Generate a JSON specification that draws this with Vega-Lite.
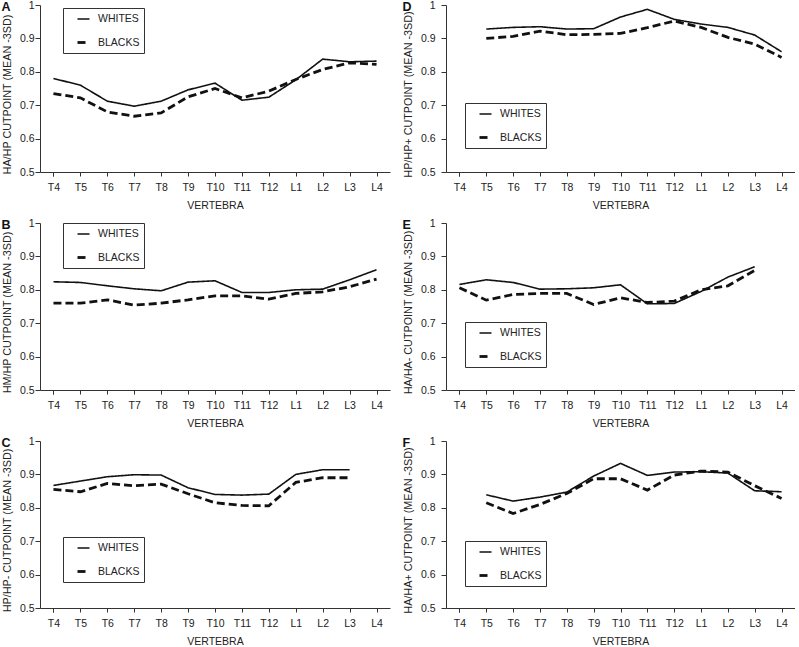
{
  "$schema": "https://vega.github.io/schema/vega-lite/v6.json",
  "padding": {"left": 1, "top": 0, "right": 0, "bottom": 0},
  "background": "white",
  "datasets": {
    "cut": [
      {"panel":"A","vertebra":"T4","group":"WHITES","value":0.780},
      {"panel":"A","vertebra":"T5","group":"WHITES","value":0.760},
      {"panel":"A","vertebra":"T6","group":"WHITES","value":0.712},
      {"panel":"A","vertebra":"T7","group":"WHITES","value":0.697},
      {"panel":"A","vertebra":"T8","group":"WHITES","value":0.712},
      {"panel":"A","vertebra":"T9","group":"WHITES","value":0.746},
      {"panel":"A","vertebra":"T10","group":"WHITES","value":0.766},
      {"panel":"A","vertebra":"T11","group":"WHITES","value":0.715},
      {"panel":"A","vertebra":"T12","group":"WHITES","value":0.724},
      {"panel":"A","vertebra":"L1","group":"WHITES","value":0.776},
      {"panel":"A","vertebra":"L2","group":"WHITES","value":0.838},
      {"panel":"A","vertebra":"L3","group":"WHITES","value":0.830},
      {"panel":"A","vertebra":"L4","group":"WHITES","value":0.832},
      {"panel":"A","vertebra":"T4","group":"BLACKS","value":0.735},
      {"panel":"A","vertebra":"T5","group":"BLACKS","value":0.722},
      {"panel":"A","vertebra":"T6","group":"BLACKS","value":0.680},
      {"panel":"A","vertebra":"T7","group":"BLACKS","value":0.667},
      {"panel":"A","vertebra":"T8","group":"BLACKS","value":0.677},
      {"panel":"A","vertebra":"T9","group":"BLACKS","value":0.725},
      {"panel":"A","vertebra":"T10","group":"BLACKS","value":0.750},
      {"panel":"A","vertebra":"T11","group":"BLACKS","value":0.722},
      {"panel":"A","vertebra":"T12","group":"BLACKS","value":0.742},
      {"panel":"A","vertebra":"L1","group":"BLACKS","value":0.777},
      {"panel":"A","vertebra":"L2","group":"BLACKS","value":0.807},
      {"panel":"A","vertebra":"L3","group":"BLACKS","value":0.827},
      {"panel":"A","vertebra":"L4","group":"BLACKS","value":0.822},

      {"panel":"B","vertebra":"T4","group":"WHITES","value":0.824},
      {"panel":"B","vertebra":"T5","group":"WHITES","value":0.822},
      {"panel":"B","vertebra":"T6","group":"WHITES","value":0.812},
      {"panel":"B","vertebra":"T7","group":"WHITES","value":0.803},
      {"panel":"B","vertebra":"T8","group":"WHITES","value":0.797},
      {"panel":"B","vertebra":"T9","group":"WHITES","value":0.823},
      {"panel":"B","vertebra":"T10","group":"WHITES","value":0.827},
      {"panel":"B","vertebra":"T11","group":"WHITES","value":0.792},
      {"panel":"B","vertebra":"T12","group":"WHITES","value":0.792},
      {"panel":"B","vertebra":"L1","group":"WHITES","value":0.800},
      {"panel":"B","vertebra":"L2","group":"WHITES","value":0.802},
      {"panel":"B","vertebra":"L3","group":"WHITES","value":0.830},
      {"panel":"B","vertebra":"L4","group":"WHITES","value":0.860},
      {"panel":"B","vertebra":"T4","group":"BLACKS","value":0.760},
      {"panel":"B","vertebra":"T5","group":"BLACKS","value":0.760},
      {"panel":"B","vertebra":"T6","group":"BLACKS","value":0.770},
      {"panel":"B","vertebra":"T7","group":"BLACKS","value":0.754},
      {"panel":"B","vertebra":"T8","group":"BLACKS","value":0.760},
      {"panel":"B","vertebra":"T9","group":"BLACKS","value":0.770},
      {"panel":"B","vertebra":"T10","group":"BLACKS","value":0.782},
      {"panel":"B","vertebra":"T11","group":"BLACKS","value":0.782},
      {"panel":"B","vertebra":"T12","group":"BLACKS","value":0.772},
      {"panel":"B","vertebra":"L1","group":"BLACKS","value":0.789},
      {"panel":"B","vertebra":"L2","group":"BLACKS","value":0.794},
      {"panel":"B","vertebra":"L3","group":"BLACKS","value":0.809},
      {"panel":"B","vertebra":"L4","group":"BLACKS","value":0.832},

      {"panel":"C","vertebra":"T4","group":"WHITES","value":0.867},
      {"panel":"C","vertebra":"T5","group":"WHITES","value":0.880},
      {"panel":"C","vertebra":"T6","group":"WHITES","value":0.893},
      {"panel":"C","vertebra":"T7","group":"WHITES","value":0.899},
      {"panel":"C","vertebra":"T8","group":"WHITES","value":0.898},
      {"panel":"C","vertebra":"T9","group":"WHITES","value":0.860},
      {"panel":"C","vertebra":"T10","group":"WHITES","value":0.840},
      {"panel":"C","vertebra":"T11","group":"WHITES","value":0.838},
      {"panel":"C","vertebra":"T12","group":"WHITES","value":0.841},
      {"panel":"C","vertebra":"L1","group":"WHITES","value":0.900},
      {"panel":"C","vertebra":"L2","group":"WHITES","value":0.914},
      {"panel":"C","vertebra":"L3","group":"WHITES","value":0.914},
      {"panel":"C","vertebra":"T4","group":"BLACKS","value":0.855},
      {"panel":"C","vertebra":"T5","group":"BLACKS","value":0.848},
      {"panel":"C","vertebra":"T6","group":"BLACKS","value":0.873},
      {"panel":"C","vertebra":"T7","group":"BLACKS","value":0.866},
      {"panel":"C","vertebra":"T8","group":"BLACKS","value":0.871},
      {"panel":"C","vertebra":"T9","group":"BLACKS","value":0.842},
      {"panel":"C","vertebra":"T10","group":"BLACKS","value":0.815},
      {"panel":"C","vertebra":"T11","group":"BLACKS","value":0.807},
      {"panel":"C","vertebra":"T12","group":"BLACKS","value":0.806},
      {"panel":"C","vertebra":"L1","group":"BLACKS","value":0.876},
      {"panel":"C","vertebra":"L2","group":"BLACKS","value":0.890},
      {"panel":"C","vertebra":"L3","group":"BLACKS","value":0.890},

      {"panel":"D","vertebra":"T5","group":"WHITES","value":0.928},
      {"panel":"D","vertebra":"T6","group":"WHITES","value":0.933},
      {"panel":"D","vertebra":"T7","group":"WHITES","value":0.935},
      {"panel":"D","vertebra":"T8","group":"WHITES","value":0.928},
      {"panel":"D","vertebra":"T9","group":"WHITES","value":0.929},
      {"panel":"D","vertebra":"T10","group":"WHITES","value":0.964},
      {"panel":"D","vertebra":"T11","group":"WHITES","value":0.987},
      {"panel":"D","vertebra":"T12","group":"WHITES","value":0.957},
      {"panel":"D","vertebra":"L1","group":"WHITES","value":0.943},
      {"panel":"D","vertebra":"L2","group":"WHITES","value":0.933},
      {"panel":"D","vertebra":"L3","group":"WHITES","value":0.910},
      {"panel":"D","vertebra":"L4","group":"WHITES","value":0.860},
      {"panel":"D","vertebra":"T5","group":"BLACKS","value":0.900},
      {"panel":"D","vertebra":"T6","group":"BLACKS","value":0.906},
      {"panel":"D","vertebra":"T7","group":"BLACKS","value":0.922},
      {"panel":"D","vertebra":"T8","group":"BLACKS","value":0.911},
      {"panel":"D","vertebra":"T9","group":"BLACKS","value":0.912},
      {"panel":"D","vertebra":"T10","group":"BLACKS","value":0.915},
      {"panel":"D","vertebra":"T11","group":"BLACKS","value":0.932},
      {"panel":"D","vertebra":"T12","group":"BLACKS","value":0.952},
      {"panel":"D","vertebra":"L1","group":"BLACKS","value":0.933},
      {"panel":"D","vertebra":"L2","group":"BLACKS","value":0.903},
      {"panel":"D","vertebra":"L3","group":"BLACKS","value":0.883},
      {"panel":"D","vertebra":"L4","group":"BLACKS","value":0.843},

      {"panel":"E","vertebra":"T4","group":"WHITES","value":0.816},
      {"panel":"E","vertebra":"T5","group":"WHITES","value":0.830},
      {"panel":"E","vertebra":"T6","group":"WHITES","value":0.822},
      {"panel":"E","vertebra":"T7","group":"WHITES","value":0.802},
      {"panel":"E","vertebra":"T8","group":"WHITES","value":0.803},
      {"panel":"E","vertebra":"T9","group":"WHITES","value":0.806},
      {"panel":"E","vertebra":"T10","group":"WHITES","value":0.815},
      {"panel":"E","vertebra":"T11","group":"WHITES","value":0.758},
      {"panel":"E","vertebra":"T12","group":"WHITES","value":0.759},
      {"panel":"E","vertebra":"L1","group":"WHITES","value":0.795},
      {"panel":"E","vertebra":"L2","group":"WHITES","value":0.838},
      {"panel":"E","vertebra":"L3","group":"WHITES","value":0.869},
      {"panel":"E","vertebra":"T4","group":"BLACKS","value":0.806},
      {"panel":"E","vertebra":"T5","group":"BLACKS","value":0.769},
      {"panel":"E","vertebra":"T6","group":"BLACKS","value":0.786},
      {"panel":"E","vertebra":"T7","group":"BLACKS","value":0.789},
      {"panel":"E","vertebra":"T8","group":"BLACKS","value":0.789},
      {"panel":"E","vertebra":"T9","group":"BLACKS","value":0.756},
      {"panel":"E","vertebra":"T10","group":"BLACKS","value":0.776},
      {"panel":"E","vertebra":"T11","group":"BLACKS","value":0.762},
      {"panel":"E","vertebra":"T12","group":"BLACKS","value":0.766},
      {"panel":"E","vertebra":"L1","group":"BLACKS","value":0.800},
      {"panel":"E","vertebra":"L2","group":"BLACKS","value":0.812},
      {"panel":"E","vertebra":"L3","group":"BLACKS","value":0.858},

      {"panel":"F","vertebra":"T5","group":"WHITES","value":0.839},
      {"panel":"F","vertebra":"T6","group":"WHITES","value":0.820},
      {"panel":"F","vertebra":"T7","group":"WHITES","value":0.832},
      {"panel":"F","vertebra":"T8","group":"WHITES","value":0.847},
      {"panel":"F","vertebra":"T9","group":"WHITES","value":0.895},
      {"panel":"F","vertebra":"T10","group":"WHITES","value":0.933},
      {"panel":"F","vertebra":"T11","group":"WHITES","value":0.897},
      {"panel":"F","vertebra":"T12","group":"WHITES","value":0.907},
      {"panel":"F","vertebra":"L1","group":"WHITES","value":0.908},
      {"panel":"F","vertebra":"L2","group":"WHITES","value":0.904},
      {"panel":"F","vertebra":"L3","group":"WHITES","value":0.851},
      {"panel":"F","vertebra":"L4","group":"WHITES","value":0.848},
      {"panel":"F","vertebra":"T5","group":"BLACKS","value":0.815},
      {"panel":"F","vertebra":"T6","group":"BLACKS","value":0.783},
      {"panel":"F","vertebra":"T7","group":"BLACKS","value":0.810},
      {"panel":"F","vertebra":"T8","group":"BLACKS","value":0.843},
      {"panel":"F","vertebra":"T9","group":"BLACKS","value":0.887},
      {"panel":"F","vertebra":"T10","group":"BLACKS","value":0.887},
      {"panel":"F","vertebra":"T11","group":"BLACKS","value":0.853},
      {"panel":"F","vertebra":"T12","group":"BLACKS","value":0.898},
      {"panel":"F","vertebra":"L1","group":"BLACKS","value":0.910},
      {"panel":"F","vertebra":"L2","group":"BLACKS","value":0.907},
      {"panel":"F","vertebra":"L3","group":"BLACKS","value":0.866},
      {"panel":"F","vertebra":"L4","group":"BLACKS","value":0.828}
    ]
  },
  "data": {"name": "cut"},
  "columns": 2,
  "align": "each",
  "bounds": "flush",
  "spacing": {"row": 51, "column": 56},
  "resolve": {
    "scale": {"x": "independent", "y": "independent", "strokeDash": "independent", "strokeWidth": "independent"},
    "axis": {"x": "independent", "y": "independent"},
    "legend": {"strokeDash": "independent", "strokeWidth": "independent"}
  },
  "concat": [
    {
      "width": 350, "height": 167,
      "title": {"text": "A"},
      "transform": [{"filter": "datum.panel == 'A'"}],
      "mark": {"type": "line", "color": "#111"},
      "encoding": {
        "x": {"field": "vertebra", "type": "nominal", "sort": ["T4","T5","T6","T7","T8","T9","T10","T11","T12","L1","L2","L3","L4"], "scale": {"domain": ["T4","T5","T6","T7","T8","T9","T10","T11","T12","L1","L2","L3","L4"], "paddingInner": 0, "paddingOuter": 0}, "axis": {"title": "VERTEBRA"}},
        "y": {"field": "value", "type": "quantitative", "scale": {"domain": [0.5, 1], "nice": false, "zero": false}, "axis": {"title": "HA/HP CUTPOINT (MEAN -3SD)", "values": [0.5,0.6,0.7,0.8,0.9,1], "format": ".1~f", "labelPadding": 1}},
        "strokeDash": {"field": "group", "type": "nominal", "scale": {"domain": ["WHITES","BLACKS"], "range": [[1,0],[8,4]]}, "legend": {"title": null, "legendX": 23, "legendY": 3}},
        "strokeWidth": {"field": "group", "type": "nominal", "scale": {"domain": ["WHITES","BLACKS"], "range": [1.6,2.8]}, "legend": {"title": null, "legendX": 23, "legendY": 3}}
      }
    },
    {
      "width": 349, "height": 167,
      "title": {"text": "D"},
      "transform": [{"filter": "datum.panel == 'D'"}],
      "mark": {"type": "line", "color": "#111"},
      "encoding": {
        "x": {"field": "vertebra", "type": "nominal", "sort": ["T4","T5","T6","T7","T8","T9","T10","T11","T12","L1","L2","L3","L4"], "scale": {"domain": ["T4","T5","T6","T7","T8","T9","T10","T11","T12","L1","L2","L3","L4"], "paddingInner": 0, "paddingOuter": 0}, "axis": {"title": "VERTEBRA"}},
        "y": {"field": "value", "type": "quantitative", "scale": {"domain": [0.5, 1], "nice": false, "zero": false}, "axis": {"title": "HP/HP+ CUTPOINT (MEAN -3SD)", "values": [0.5,0.6,0.7,0.8,0.9,1], "format": ".1~f", "labelPadding": 6}},
        "strokeDash": {"field": "group", "type": "nominal", "scale": {"domain": ["WHITES","BLACKS"], "range": [[1,0],[8,4]]}, "legend": {"title": null, "legendX": 19, "legendY": 98}},
        "strokeWidth": {"field": "group", "type": "nominal", "scale": {"domain": ["WHITES","BLACKS"], "range": [1.6,2.8]}, "legend": {"title": null, "legendX": 19, "legendY": 98}}
      }
    },
    {
      "width": 350, "height": 167,
      "title": {"text": "B"},
      "transform": [{"filter": "datum.panel == 'B'"}],
      "mark": {"type": "line", "color": "#111"},
      "encoding": {
        "x": {"field": "vertebra", "type": "nominal", "sort": ["T4","T5","T6","T7","T8","T9","T10","T11","T12","L1","L2","L3","L4"], "scale": {"domain": ["T4","T5","T6","T7","T8","T9","T10","T11","T12","L1","L2","L3","L4"], "paddingInner": 0, "paddingOuter": 0}, "axis": {"title": "VERTEBRA"}},
        "y": {"field": "value", "type": "quantitative", "scale": {"domain": [0.5, 1], "nice": false, "zero": false}, "axis": {"title": "HM/HP CUTPOINT (MEAN -3SD)", "values": [0.5,0.6,0.7,0.8,0.9,1], "format": ".1~f", "labelPadding": 1}},
        "strokeDash": {"field": "group", "type": "nominal", "scale": {"domain": ["WHITES","BLACKS"], "range": [[1,0],[8,4]]}, "legend": {"title": null, "legendX": 23, "legendY": 0}},
        "strokeWidth": {"field": "group", "type": "nominal", "scale": {"domain": ["WHITES","BLACKS"], "range": [1.6,2.8]}, "legend": {"title": null, "legendX": 23, "legendY": 0}}
      }
    },
    {
      "width": 349, "height": 167,
      "title": {"text": "E"},
      "transform": [{"filter": "datum.panel == 'E'"}],
      "mark": {"type": "line", "color": "#111"},
      "encoding": {
        "x": {"field": "vertebra", "type": "nominal", "sort": ["T4","T5","T6","T7","T8","T9","T10","T11","T12","L1","L2","L3","L4"], "scale": {"domain": ["T4","T5","T6","T7","T8","T9","T10","T11","T12","L1","L2","L3","L4"], "paddingInner": 0, "paddingOuter": 0}, "axis": {"title": "VERTEBRA"}},
        "y": {"field": "value", "type": "quantitative", "scale": {"domain": [0.5, 1], "nice": false, "zero": false}, "axis": {"title": "HA/HA- CUTPOINT (MEAN -3SD)", "values": [0.5,0.6,0.7,0.8,0.9,1], "format": ".1~f", "labelPadding": 6}},
        "strokeDash": {"field": "group", "type": "nominal", "scale": {"domain": ["WHITES","BLACKS"], "range": [[1,0],[8,4]]}, "legend": {"title": null, "legendX": 19, "legendY": 99}},
        "strokeWidth": {"field": "group", "type": "nominal", "scale": {"domain": ["WHITES","BLACKS"], "range": [1.6,2.8]}, "legend": {"title": null, "legendX": 19, "legendY": 99}}
      }
    },
    {
      "width": 350, "height": 167,
      "title": {"text": "C"},
      "transform": [{"filter": "datum.panel == 'C'"}],
      "mark": {"type": "line", "color": "#111"},
      "encoding": {
        "x": {"field": "vertebra", "type": "nominal", "sort": ["T4","T5","T6","T7","T8","T9","T10","T11","T12","L1","L2","L3","L4"], "scale": {"domain": ["T4","T5","T6","T7","T8","T9","T10","T11","T12","L1","L2","L3","L4"], "paddingInner": 0, "paddingOuter": 0}, "axis": {"title": "VERTEBRA"}},
        "y": {"field": "value", "type": "quantitative", "scale": {"domain": [0.5, 1], "nice": false, "zero": false}, "axis": {"title": "HP/HP- CUTPOINT (MEAN -3SD)", "values": [0.5,0.6,0.7,0.8,0.9,1], "format": ".1~f", "labelPadding": 1}},
        "strokeDash": {"field": "group", "type": "nominal", "scale": {"domain": ["WHITES","BLACKS"], "range": [[1,0],[8,4]]}, "legend": {"title": null, "legendX": 23, "legendY": 96}},
        "strokeWidth": {"field": "group", "type": "nominal", "scale": {"domain": ["WHITES","BLACKS"], "range": [1.6,2.8]}, "legend": {"title": null, "legendX": 23, "legendY": 96}}
      }
    },
    {
      "width": 349, "height": 167,
      "title": {"text": "F"},
      "transform": [{"filter": "datum.panel == 'F'"}],
      "mark": {"type": "line", "color": "#111"},
      "encoding": {
        "x": {"field": "vertebra", "type": "nominal", "sort": ["T4","T5","T6","T7","T8","T9","T10","T11","T12","L1","L2","L3","L4"], "scale": {"domain": ["T4","T5","T6","T7","T8","T9","T10","T11","T12","L1","L2","L3","L4"], "paddingInner": 0, "paddingOuter": 0}, "axis": {"title": "VERTEBRA"}},
        "y": {"field": "value", "type": "quantitative", "scale": {"domain": [0.5, 1], "nice": false, "zero": false}, "axis": {"title": "HA/HA+ CUTPOINT (MEAN -3SD)", "values": [0.5,0.6,0.7,0.8,0.9,1], "format": ".1~f", "labelPadding": 6}},
        "strokeDash": {"field": "group", "type": "nominal", "scale": {"domain": ["WHITES","BLACKS"], "range": [[1,0],[8,4]]}, "legend": {"title": null, "legendX": 19, "legendY": 100}},
        "strokeWidth": {"field": "group", "type": "nominal", "scale": {"domain": ["WHITES","BLACKS"], "range": [1.6,2.8]}, "legend": {"title": null, "legendX": 19, "legendY": 100}}
      }
    }
  ],
  "config": {
    "font": "Liberation Sans",
    "view": {"stroke": null},
    "axis": {
      "grid": false,
      "domainColor": "#333",
      "tickColor": "#333",
      "labelColor": "#222",
      "titleColor": "#222",
      "labelFont": "Liberation Sans",
      "titleFont": "Liberation Sans",
      "labelFontSize": 10.5,
      "titleFontSize": 10.5,
      "titleFontWeight": "normal",
      "tickSize": 5
    },
    "axisX": {"labelAngle": 0, "tickBand": "extent", "tickSize": 4, "labelPadding": 6, "titlePadding": 8},
    "axisY": {"titleFontSize": 10.8, "titlePadding": 7, "titleY": 89},
    "legend": {
      "orient": "none",
      "strokeColor": "#333",
      "padding": 4,
      "rowPadding": 10,
      "symbolType": "stroke",
      "symbolSize": 144,
      "symbolStrokeColor": "#111",
      "symbolOffset": 9,
      "labelOffset": 7,
      "labelFont": "Liberation Sans",
      "labelFontSize": 10.5,
      "labelColor": "#222"
    },
    "title": {
      "font": "Liberation Sans",
      "fontSize": 12.5,
      "fontWeight": "bold",
      "anchor": "start",
      "frame": "bounds",
      "baseline": "top",
      "offset": -13,
      "color": "#111"
    }
  }
}
